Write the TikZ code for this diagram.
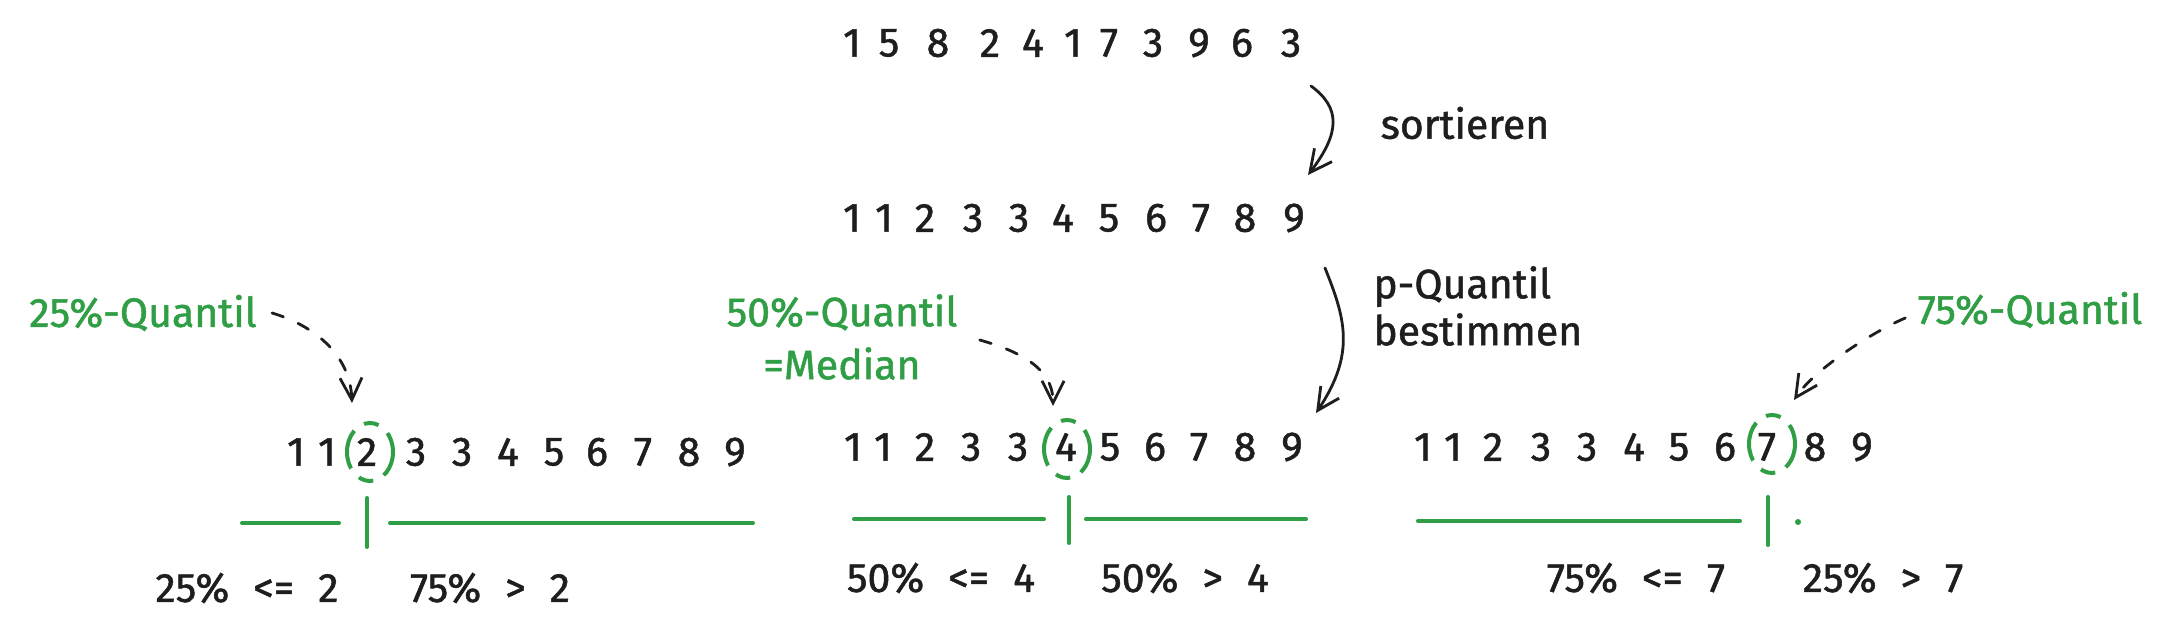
\documentclass[tikz,border=0pt]{standalone}
\usepackage{fontspec}
\setmainfont{Fira Sans}[FakeBold=1.2]
\usetikzlibrary{arrows.meta,calc,shapes.geometric}
\definecolor{exgreen}{HTML}{2F9E44}
\definecolor{exblack}{HTML}{1E1E1E}

\begin{document}
\begin{tikzpicture}[x=0.5pt,y=-0.5pt,
  digit/.style={text=exblack,inner sep=0pt,font=\fontsize{20.5}{24}\selectfont},
  note/.style={text=exgreen,inner sep=0pt,align=center,font=\fontsize{20.5}{26.5}\selectfont},
  txt/.style={text=exblack,inner sep=0pt,align=left,font=\fontsize{20.5}{23.5}\selectfont,
    execute at begin node={\spaceskip=12pt\relax}},
  ring/.style={draw=exgreen,line width=2pt,ellipse,minimum width=23pt,minimum height=29pt,inner sep=0pt,
    dash pattern=on 20pt off 6pt on 7.5pt off 6pt,dash phase=10pt},
  bar/.style={exgreen,line width=2pt,line cap=round},
  arr/.style={exblack,line width=1.4pt,line cap=round,-{Straight Barb[length=11pt,width=11pt]}},
  darr/.style={arr,dash pattern=on 6pt off 8pt}]
\fill[white] (0,0) rectangle (2169,635);
\useasboundingbox (0,0) rectangle (2169,635);

\foreach \d/\x [count=\i] in {1/852,5/889,8/938,2/990,4/1033,1/1073,7/1109,3/1153,9/1199,6/1242,3/1291}
  \node[digit] (top\i) at (\x,43) {\d};
\foreach \d/\x [count=\i] in {1/852,1/884,2/925,3/973,3/1019,4/1063,5/1109,6/1156,7/1201,8/1245,9/1294}
  \node[digit] (sorted\i) at (\x,218) {\d};
\foreach \d/\x [count=\i] in {1/296,1/327,2/367,3/416,3/462,4/508,5/554,6/597,7/643,8/689,9/735}
  \node[digit] (left\i) at (\x,452) {\d};
\foreach \d/\x [count=\i] in {1/853,1/883,2/925,3/971,3/1018,4/1066,5/1110,6/1155,7/1199,8/1245,9/1292}
  \node[digit] (mid\i) at (\x,447) {\d};
\foreach \d/\x [count=\i] in {1/1423,1/1453,2/1493,3/1541,3/1587,4/1634,5/1679,6/1725,7/1767,8/1815,9/1862}
  \node[digit] (right\i) at (\x,447) {\d};

\node[txt] (sort) at (1465,123) {sortieren};
\node[txt,anchor=west] (pquant) at (1373,306) {p-Quantil\\bestimmen};
\draw[arr] ($(top11)+(20,43)$) .. controls +(30,22) and +(32,-42) .. ($(sorted11)+(14,-43)$);
\draw[arr] ($(sorted11)+(31,50)$) .. controls +(20,50) and +(40,-60) .. ($(mid11)+(24,-34)$);

\node[note] (q25) at (143,313) {25\%-Quantil};
\node[note] (q50) at (842,337) {50\%-Quantil\\=Median};
\node[note] (q75) at (2030,310) {75\%-Quantil};

\node[ring] (r25) at (370,452) {};
\node[ring] (r50) at (1067,449) {};
\node[ring] (r75) at (1772,444) {};

\draw[darr] ($(q25.east)+(15,0)$) .. controls +(40,12) and +(-2,-50) .. ($(r25.north)+(-18,-18)$);
\draw[darr] ($(q50.east)+(22,3)$) .. controls +(35,10) and +(0,-40) .. ($(r50.north)+(-14,-12)$);
\draw[darr] ($(q75.west)+(-12,8)$) .. controls +(-35,15) and +(20,-30) .. ($(r75.north)+(22,-13)$);

\draw[bar] (242,523) -- (339,523);
\draw[bar] (367,498) -- (367,547);
\draw[bar] (390,523) -- (753,523);
\draw[bar] (854,519) -- (1044,519);
\draw[bar] (1069,497) -- (1069,543);
\draw[bar] (1086,519) -- (1306,519);
\draw[bar] (1418,521) -- (1740,521);
\draw[bar] (1768,497) -- (1768,545);
\fill[exgreen] (1798,522) circle (1.5pt);

\node[txt] (le25) at (247,588) {25\% <= 2};
\node[txt] (gt75) at (490,588) {75\% > 2};
\node[txt] (le50) at (941,578) {50\% <= 4};
\node[txt] (gt50) at (1185,578) {50\% > 4};
\node[txt] (le75) at (1636,578) {75\% <= 7};
\node[txt] (gt25) at (1883,578) {25\% > 7};
\end{tikzpicture}
\end{document}
